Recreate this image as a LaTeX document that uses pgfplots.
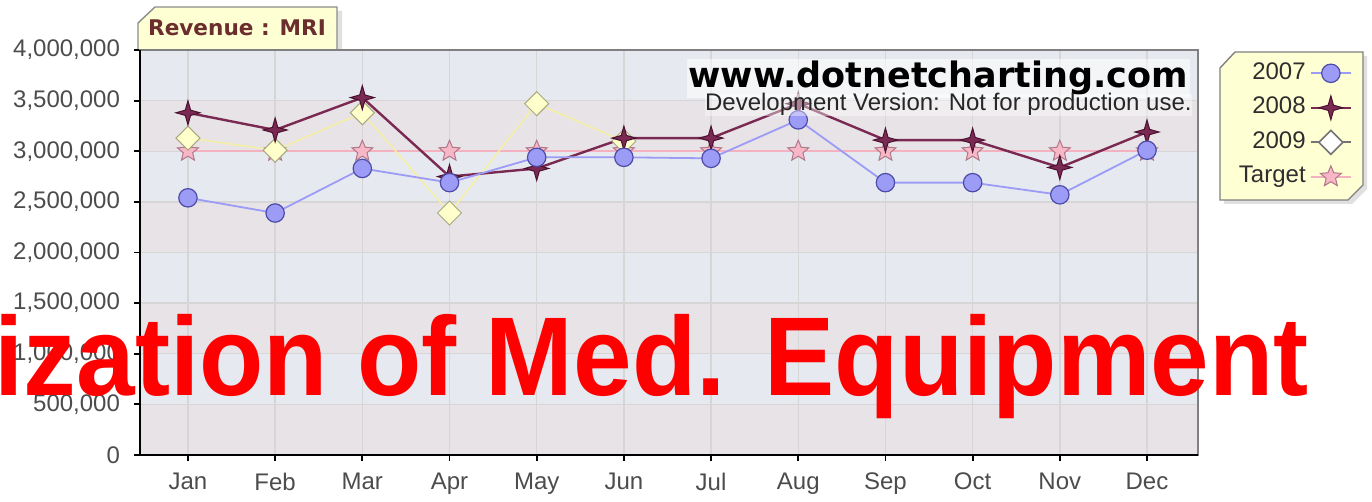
\documentclass[border=0pt]{standalone}
\usepackage{pgfplots}
\pgfplotsset{compat=1.18}
\usepackage{fontspec}
\setmainfont{Liberation Sans}
\newfontfamily\dvs{DejaVu Sans}
\definecolor{bandA}{HTML}{E6E9EF}
\definecolor{bandB}{HTML}{E8E3E7}
\definecolor{cA}{HTML}{9C9CF6}
\definecolor{cAd}{HTML}{4C4CA8}
\definecolor{cB}{HTML}{7A2A52}
\definecolor{cBd}{HTML}{4A1030}
\definecolor{cC}{HTML}{F4EFA6}
\definecolor{cCf}{HTML}{FFFFCC}
\definecolor{cCd}{HTML}{A8A880}
\definecolor{cT}{HTML}{F4B2C0}
\definecolor{cTf}{HTML}{F7B7C7}
\definecolor{cTd}{HTML}{B07888}
\definecolor{boxy}{HTML}{FFFFD4}
\definecolor{titlec}{HTML}{6B2D2D}
\pgfdeclareplotmark{sparkle}{%
\pgfpathmoveto{\pgfqpoint{0pt}{\pgfplotmarksize}}%
\pgfpathlineto{\pgfqpoint{0.22\pgfplotmarksize}{0.22\pgfplotmarksize}}%
\pgfpathlineto{\pgfqpoint{\pgfplotmarksize}{0pt}}%
\pgfpathlineto{\pgfqpoint{0.22\pgfplotmarksize}{-0.22\pgfplotmarksize}}%
\pgfpathlineto{\pgfqpoint{0pt}{-\pgfplotmarksize}}%
\pgfpathlineto{\pgfqpoint{-0.22\pgfplotmarksize}{-0.22\pgfplotmarksize}}%
\pgfpathlineto{\pgfqpoint{-\pgfplotmarksize}{0pt}}%
\pgfpathlineto{\pgfqpoint{-0.22\pgfplotmarksize}{0.22\pgfplotmarksize}}%
\pgfpathclose\pgfusepathqfillstroke}
\pgfdeclareplotmark{fstar}{%
\pgfpathmoveto{\pgfqpoint{0pt}{\pgfplotmarksize}}%
\pgfpathlineto{\pgfqpoint{-0.265\pgfplotmarksize}{0.364\pgfplotmarksize}}%
\pgfpathlineto{\pgfqpoint{-0.951\pgfplotmarksize}{0.309\pgfplotmarksize}}%
\pgfpathlineto{\pgfqpoint{-0.428\pgfplotmarksize}{-0.139\pgfplotmarksize}}%
\pgfpathlineto{\pgfqpoint{-0.588\pgfplotmarksize}{-0.809\pgfplotmarksize}}%
\pgfpathlineto{\pgfqpoint{0pt}{-0.45\pgfplotmarksize}}%
\pgfpathlineto{\pgfqpoint{0.588\pgfplotmarksize}{-0.809\pgfplotmarksize}}%
\pgfpathlineto{\pgfqpoint{0.428\pgfplotmarksize}{-0.139\pgfplotmarksize}}%
\pgfpathlineto{\pgfqpoint{0.951\pgfplotmarksize}{0.309\pgfplotmarksize}}%
\pgfpathlineto{\pgfqpoint{0.265\pgfplotmarksize}{0.364\pgfplotmarksize}}%
\pgfpathclose\pgfusepathqfillstroke}
\pgfdeclareplotmark{sqdiamond}{%
\pgfpathmoveto{\pgfqpoint{0pt}{\pgfplotmarksize}}%
\pgfpathlineto{\pgfqpoint{\pgfplotmarksize}{0pt}}%
\pgfpathlineto{\pgfqpoint{0pt}{-\pgfplotmarksize}}%
\pgfpathlineto{\pgfqpoint{-\pgfplotmarksize}{0pt}}%
\pgfpathclose\pgfusepathqfillstroke}
\begin{document}
\begin{tikzpicture}
\begin{scope}[x=0.5pt,y=-0.5pt]
% title box
\fill[black!12] (142,27) -- (159,11) -- (342,11) -- (342,50) -- (142,50) -- cycle;
\filldraw[fill=boxy,draw=black!45,line width=0.7pt] (138,50) -- (138,23) -- (155,7) -- (337,7) -- (337,50);
\node[anchor=base,text=titlec,font=\dvs\bfseries\fontsize{10.8}{12}\selectfont] at (237,36) {Revenue : MRI};
% bands
\fill[bandB] (140,455) rectangle (1198,404.375);
\fill[bandA] (140,404.375) rectangle (1198,353.75);
\fill[bandB] (140,353.75) rectangle (1198,303.125);
\fill[bandA] (140,303.125) rectangle (1198,252.5);
\fill[bandB] (140,252.5) rectangle (1198,201.875);
\fill[bandA] (140,201.875) rectangle (1198,151.25);
\fill[bandB] (140,151.25) rectangle (1198,100.625);
\fill[bandA] (140,100.625) rectangle (1198,50);
% legend box
\fill[black!12] (1224,72) -- (1239,56) -- (1367,56) -- (1367,189) -- (1352,204) -- (1224,204) -- cycle;
\filldraw[fill=boxy,draw=black!50,line width=0.7pt] (1220,68) -- (1235,52) -- (1363,52) -- (1363,185) -- (1348,200) -- (1220,200) -- cycle;
\end{scope}
\begin{axis}[
  at={(70pt,-227.5pt)}, anchor=south west,
  width=529pt, height=202.5pt, scale only axis,
  xmin=0.45, xmax=12.585, ymin=0, ymax=4000000,
  xtick={1,2,3,4,5,6,7,8,9,10,11,12},
  xticklabels={Jan,Feb,Mar,Apr,May,Jun,Jul,Aug,Sep,Oct,Nov,Dec},
  ytick={0,500000,1000000,1500000,2000000,2500000,3000000,3500000,4000000},
  scaled y ticks=false,
  /pgf/number format/fixed,
  /pgf/number format/1000 sep={,},
  /pgf/number format/assume math mode=true,
  ticklabel style={font=\fontsize{12}{12}\selectfont, text=black!70},
  yticklabel style={xshift=-3.5pt},
  xticklabel style={yshift=-2.5pt},
  grid=major,
  grid style={draw=black!16, line width=0.7pt},
  axis line style={draw=black!50, line width=0.9pt},
  xtick pos=bottom, ytick pos=left,
  tick align=outside,
  major tick length=3pt,
  tick style={draw=black, line width=0.9pt},
  reverse legend,
  legend plot pos=right,
  legend cell align=right,
  legend image code/.code={\draw[mark repeat=2,mark phase=2,#1] plot coordinates {(0pt,0pt) (10pt,0pt) (20pt,0pt)};},
  legend style={at={(axis description cs:1.146,0.983)}, anchor=north east,
    draw=none, fill=none, inner sep=0pt, row sep=1.25pt,
    font=\fontsize{12}{12}\selectfont, text=black!82,
    nodes={inner sep=2pt, text height=9pt, text depth=3pt}},
]
% Target
\addplot[color=cT, line width=1pt, mark=fstar, mark size=5.5pt,
  mark options={fill=cTf, draw=cTd, line width=0.5pt}]
  coordinates {(1,3000000)(2,3000000)(3,3000000)(4,3000000)(5,3000000)(6,3000000)
  (7,3000000)(8,3000000)(9,3000000)(10,3000000)(11,3000000)(12,3000000)};
\addlegendentry{Target}
% 2009
\addplot[color=cC, line width=0.8pt, mark=sqdiamond, mark size=6pt,
  mark options={fill=cCf, draw=cCd, line width=0.5pt},
  legend image post style={draw=black!55, mark options={fill=white, draw=black!55}}]
  coordinates {(1,3130000)(2,3010000)(3,3380000)(4,2390000)(5,3470000)(6,3100000)};
\addlegendentry{2009}
% 2008
\addplot[color=cB, line width=1.2pt, mark=sparkle, mark size=6pt,
  mark options={fill=cB, draw=cBd, line width=0.5pt}]
  coordinates {(1,3380000)(2,3210000)(3,3530000)(4,2750000)(5,2830000)(6,3130000)
  (7,3130000)(8,3470000)(9,3110000)(10,3110000)(11,2840000)(12,3190000)};
\addlegendentry{2008}
% 2007
\addplot[color=cA, line width=0.9pt, mark=*, mark size=4.6pt,
  mark options={fill=cA, draw=cAd, line width=0.6pt}]
  coordinates {(1,2540000)(2,2390000)(3,2830000)(4,2690000)(5,2940000)(6,2940000)
  (7,2930000)(8,3310000)(9,2690000)(10,2690000)(11,2570000)(12,3010000)};
\addlegendentry{2007}
\end{axis}
\begin{scope}[x=0.5pt,y=-0.5pt]
\draw[black, line width=1.1pt] (140,50) -- (140,455) -- (1198,455);
% watermark
\node[anchor=base east, fill=white, fill opacity=0.55, text opacity=1, inner sep=1pt,
  font=\dvs\bfseries\fontsize{17.5}{18}\selectfont, text=black] at (1190,88) {www.dotnetcharting.com};
\node[anchor=base east, inner sep=0pt, fill=white, fill opacity=0.4, text opacity=1,
  font=\fontsize{12}{12}\selectfont, text=black!85] at (1192,111) {Development Version: Not for production use.};
% red overlay text
\node[anchor=base east, inner sep=0pt, text=red, font=\bfseries\fontsize{56}{56}\selectfont]
  at (1309,395) {\scalebox{0.94}[1]{ization of Med. Equipment}};
\end{scope}
\pgfresetboundingbox
\useasboundingbox (0pt,0pt) rectangle (686pt,-251pt);
\end{tikzpicture}
\end{document}
